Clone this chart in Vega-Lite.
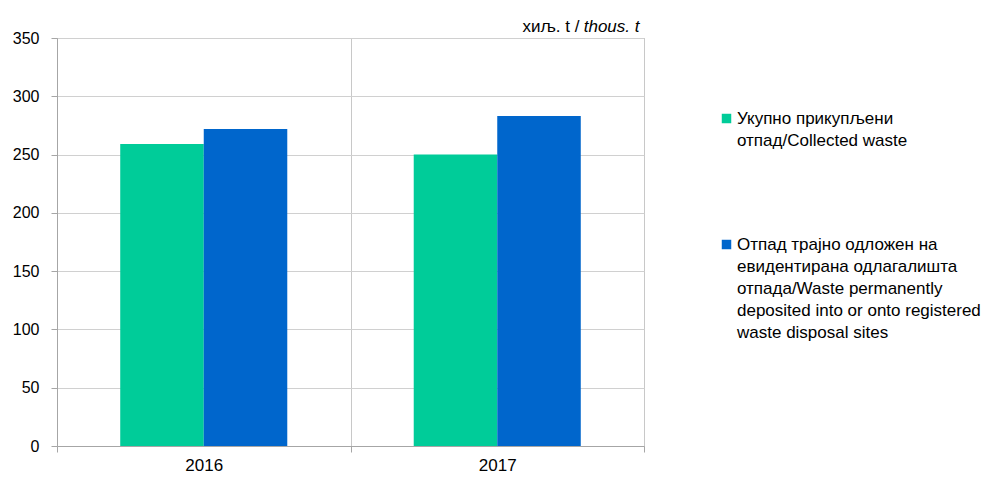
{
  "$schema": "https://vega.github.io/schema/vega-lite/v6.json",
  "autosize": "none",
  "width": 587,
  "height": 408,
  "padding": {"left": 57, "top": 38, "right": 345, "bottom": 35},
  "background": "white",
  "data": {
    "values": [
      {"year": "2016", "series": "Укупно прикупљени|отпад/Collected waste", "value": 259},
      {"year": "2016", "series": "Отпад трајно одложен на|евидентирана одлагалишта|отпада/Waste permanently|deposited into or onto registered|waste disposal sites", "value": 272},
      {"year": "2017", "series": "Укупно прикупљени|отпад/Collected waste", "value": 250},
      {"year": "2017", "series": "Отпад трајно одложен на|евидентирана одлагалишта|отпада/Waste permanently|deposited into or onto registered|waste disposal sites", "value": 283}
    ]
  },
  "config": {
    "font": "Liberation Sans",
    "view": {"stroke": "#a6a6a6", "strokeWidth": 1},
    "axis": {"labelFont": "Liberation Sans", "labelColor": "#000", "labelFontSize": 16}
  },
  "mark": {"type": "bar"},
  "encoding": {
    "x": {
      "field": "year",
      "type": "nominal",
      "scale": {"paddingInner": 0, "paddingOuter": 0},
      "axis": {
        "title": "thous. t",
        "titleFont": "Liberation Sans",
        "titleFontSize": 17,
        "titleFontStyle": "italic",
        "titleFontWeight": "normal",
        "titleColor": "#000",
        "titleAlign": "right",
        "titleBaseline": "alphabetic",
        "titleAnchor": null,
        "titleX": 582,
        "titleY": -415,
        "labelAngle": 0,
        "labelFontSize": 17,
        "labelPadding": 5,
        "tickBand": "extent",
        "tickSize": 6,
        "tickColor": "#a6a6a6",
        "domainColor": "#a6a6a6",
        "grid": true,
        "gridColor": "#c8c8c8"
      }
    },
    "xOffset": {
      "field": "series",
      "type": "nominal",
      "sort": null,
      "scale": {"paddingInner": 0, "paddingOuter": 0.757}
    },
    "y": {
      "field": "value",
      "type": "quantitative",
      "scale": {"domain": [0, 350], "nice": false},
      "axis": {
        "title": "хиљ. t /",
        "titleFont": "Liberation Sans",
        "titleFontSize": 17,
        "titleFontStyle": "normal",
        "titleFontWeight": "normal",
        "titleColor": "#000",
        "titleAngle": 0,
        "titleAlign": "right",
        "titleBaseline": "alphabetic",
        "titleAnchor": null,
        "titleX": 522,
        "titleY": -7,
        "values": [0, 50, 100, 150, 200, 250, 300, 350],
        "tickSize": 6,
        "labelPadding": 12,
        "tickColor": "#a6a6a6",
        "domainColor": "#a6a6a6",
        "gridColor": "#d0d0d0"
      }
    },
    "color": {
      "field": "series",
      "type": "nominal",
      "sort": null,
      "scale": {"range": ["#00cc99", "#0066cc"]},
      "legend": {
        "title": null,
        "orient": "none",
        "legendX": 661,
        "legendY": 72,
        "symbolType": "square",
        "symbolSize": 90,
        "symbolStrokeWidth": 0,
        "symbolOpacity": 1,
        "labelFont": "Liberation Sans",
        "labelFontSize": 17,
        "labelColor": "#000",
        "labelLimit": 400,
        "labelExpr": "split(datum.label, '|')",
        "labelBaseline": "top",
        "labelOffset": 2,
        "rowPadding": 86,
        "encode": {
          "labels": {"update": {"lineHeight": {"value": 22}, "dy": {"value": -8}}}
        }
      }
    }
  }
}
